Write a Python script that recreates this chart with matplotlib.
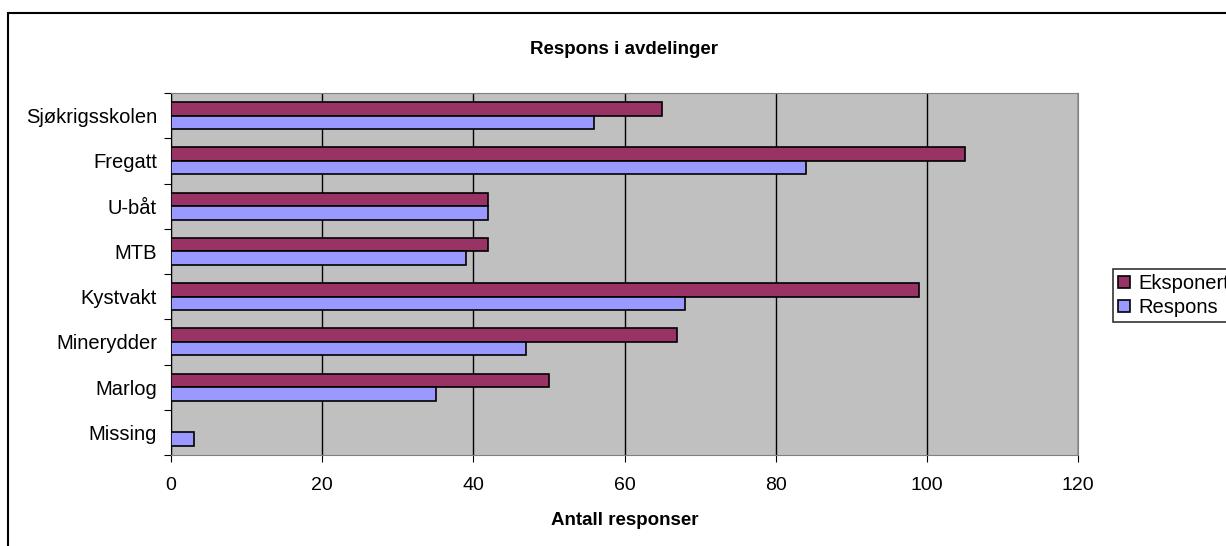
import numpy as np
import matplotlib.pyplot as plt
from matplotlib.patches import Rectangle

plt.rcParams['font.family'] = ['Liberation Sans', 'DejaVu Sans']

# Data (top to bottom)
categories = ['Sjøkrigsskolen', 'Fregatt', 'U-båt', 'MTB', 'Kystvakt',
              'Minerydder', 'Marlog', 'Missing']
eksponert = [65, 105, 42, 42, 99, 67, 50, 0]
respons = [56, 84, 42, 39, 68, 47, 35, 3]

fig = plt.figure(figsize=(12.26, 5.46), dpi=100)
ax = fig.add_axes([171 / 1226, 1 - 455 / 546, 907 / 1226, 362 / 546])

pos = np.arange(len(categories))
h = 0.3
ax.barh(pos - h / 2, eksponert, height=h, color='#993366', edgecolor='black',
        linewidth=1.2, label='Eksponert', zorder=3)
ax.barh(pos + h / 2, respons, height=h, color='#9999FF', edgecolor='black',
        linewidth=1.2, label='Respons', zorder=3)

ax.set_facecolor('#C0C0C0')
ax.set_xlim(0, 120)
ax.set_ylim(len(categories) - 0.5, -0.5)
ax.set_xticks(np.arange(0, 121, 20))
ax.tick_params(axis='x', labelsize=14, length=5, direction='out', pad=11)
ax.xaxis.grid(True, color='black', linewidth=1, zorder=1)

# category boundaries as ticks, labels centred between them
ax.set_yticks(np.arange(-0.5, len(categories), 1))
ax.set_yticklabels([])
ax.set_yticks(pos, minor=True)
ax.set_yticklabels(categories, minor=True, fontsize=14.5)
ax.tick_params(axis='y', which='major', length=5, direction='out')
ax.tick_params(axis='y', which='minor', length=0, pad=10)

for s in ['top', 'right']:
    ax.spines[s].set_color('#808080')
ax.spines['left'].set_color('black')
ax.spines['bottom'].set_color('#808080')

ax.set_xlabel('Antall responser', fontsize=13.5, fontweight='bold', labelpad=13)
fig.text(624 / 1226, 1 - 50 / 546, 'Respons i avdelinger', fontsize=13.5,
         fontweight='bold', ha='center', va='center')

leg = fig.legend(loc='upper left', bbox_to_anchor=(1113 / 1226, 1 - 269 / 546),
                 fontsize=14.5, frameon=True, fancybox=False, edgecolor='black',
                 handlelength=0.6, handleheight=0.6, handletextpad=0.4,
                 borderpad=0.25, labelspacing=0.25, borderaxespad=0)
leg.get_frame().set_linewidth(1.2)

# outer chart border (runs off the right and bottom edges)
fig.patches.append(Rectangle((8 / 1226, -0.1), 1.2, 1.1 - 13 / 546,
                             transform=fig.transFigure, fill=False,
                             edgecolor='black', linewidth=1.5))

fig.savefig('out.png', dpi=100)
